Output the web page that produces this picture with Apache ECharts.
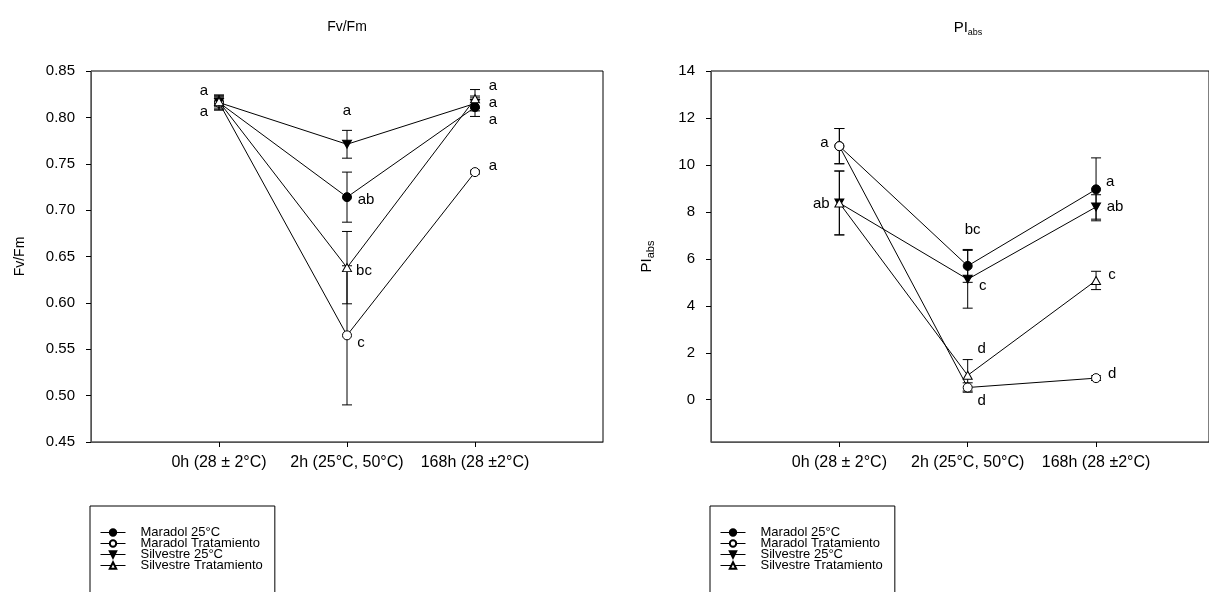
<!DOCTYPE html>
<html>
<head>
<meta charset="utf-8">
<script src="https://cdn.jsdelivr.net/npm/echarts@6/dist/echarts.min.js"></script>
<style>
html,body{margin:0;padding:0;background:#fff;}
#chart{width:1209px;height:592px;}
</style>
</head>
<body>
<div id="chart"></div>
<script>
// ---------- data ----------
const categories = ['0h (28 ± 2°C)', '2h (25°C, 50°C)', '168h (28 ±2°C)'];
const seriesNames = ['Maradol 25°C', 'Maradol Tratamiento', 'Silvestre 25°C', 'Silvestre Tratamiento'];

const fvfmMaradol25 = [0.816, 0.714, 0.811];
const fvfmMaradol25Err = [0.008, 0.027, 0.010];
const fvfmMaradolTrat = [0.816, 0.565, 0.741];
const fvfmMaradolTratErr = [0.006, 0.075, 0.002];
const fvfmSilv25 = [0.816, 0.771, 0.815];
const fvfmSilv25Err = [0.008, 0.015, 0.008];
const fvfmSilvTrat = [0.817, 0.638, 0.820];
const fvfmSilvTratErr = [0.005, 0.039, 0.010];

const piMaradol25 = [10.80, 5.70, 8.96];
const piMaradol25Err = [0.75, 0.70, 1.34];
const piMaradolTrat = [10.80, 0.52, 0.92];
const piMaradolTratErr = [0.75, 0.20, 0.10];
const piSilv25 = [8.38, 5.13, 8.21];
const piSilv25Err = [1.36, 1.23, 0.52];
const piSilvTrat = [8.38, 1.04, 5.08];
const piSilvTratErr = [1.36, 0.67, 0.39];

const fvfmLetters = [['a', 'ab', 'a'], ['', 'c', 'a'], ['a', 'a', 'a'], ['', 'bc', 'a']];
const piLetters = [['', 'bc', 'a'], ['a', 'd', 'd'], ['', 'c', 'ab'], ['ab', 'd', 'c']];

const fvfmTicks = [0.45, 0.50, 0.55, 0.60, 0.65, 0.70, 0.75, 0.80, 0.85];
const piTicks = [0, 2, 4, 6, 8, 10, 12, 14];

// ---------- layout / style (not data) ----------
const fvfmLabelOffsets = [
  [[-15, -12], [19, 3], [18, 13]],
  [[0, 0], [14, 8], [18, -6]],
  [[-15, 9], [0, -33], [18, -1]],
  [[0, 0], [17, 3], [18, -13]]
];
const piLabelOffsets = [
  [[0, 0], [5, -36], [14, -7]],
  [[-15, -3], [14, 13], [16, -4]],
  [[0, 0], [15, 7], [19, 0]],
  [[-18, 1], [14, -26], [16, -6]]
];
const downTri = 'path://M0,0 L10,0 L5,9 Z';
const symbolStyles = [
  { symbol: 'circle', size: 9, fill: '#000' },
  { symbol: 'circle', size: 9, fill: '#fff' },
  { symbol: downTri, size: [9, 8], fill: '#000' },
  { symbol: 'triangle', size: [9, 8], fill: '#fff' }
];
const FONT = '"Liberation Sans", Arial, sans-serif';

function buildSeries(gi, vals, errs, letters, offsets) {
  const out = [];
  vals.forEach((v, si) => {
    out.push({
      type: 'custom',
      name: 'err-' + gi + '-' + si,
      xAxisIndex: gi, yAxisIndex: gi,
      z: 2,
      silent: true,
      data: v.map((y, i) => [i, y, errs[si][i]]),
      encode: { x: 0, y: 1 },
      renderItem: function (params, api) {
        const x = api.value(0), y = api.value(1), e = api.value(2);
        const t = api.coord([x, y + e]);
        const b = api.coord([x, y - e]);
        const w = 5;
        const st = { stroke: '#000', lineWidth: 1 };
        return {
          type: 'group',
          children: [
            { type: 'line', shape: { x1: t[0], y1: t[1], x2: b[0], y2: b[1] }, style: st },
            { type: 'line', shape: { x1: t[0] - w, y1: t[1], x2: t[0] + w, y2: t[1] }, style: st },
            { type: 'line', shape: { x1: b[0] - w, y1: b[1], x2: b[0] + w, y2: b[1] }, style: st }
          ]
        };
      }
    });
  });
  vals.forEach((v, si) => {
    const s = symbolStyles[si];
    out.push({
      type: 'line',
      name: seriesNames[si],
      xAxisIndex: gi, yAxisIndex: gi,
      z: 3,
      symbol: s.symbol,
      symbolSize: s.size,
      showAllSymbol: true,
      color: '#000',
      lineStyle: { color: '#000', width: 1 },
      itemStyle: { color: s.fill, borderColor: '#000', borderWidth: 1 },
      emphasis: { disabled: true },
      animation: false,
      data: v.map((y, i) => ({
        value: [i, y],
        label: {
          show: letters[si][i] !== '',
          formatter: letters[si][i],
          position: 'inside',
          offset: offsets[si][i],
          color: '#000',
          fontSize: 15,
          fontFamily: FONT
        }
      }))
    });
  });
  return out;
}

const fvfmVals = [fvfmMaradol25, fvfmMaradolTrat, fvfmSilv25, fvfmSilvTrat];
const fvfmErrs = [fvfmMaradol25Err, fvfmMaradolTratErr, fvfmSilv25Err, fvfmSilvTratErr];
const piVals = [piMaradol25, piMaradolTrat, piSilv25, piSilvTrat];
const piErrs = [piMaradol25Err, piMaradolTratErr, piSilv25Err, piSilvTratErr];

function xAxisDef(gi, maxV) {
  return {
    type: 'value', gridIndex: gi, min: -1, max: maxV, interval: 1,
    splitLine: { show: false },
    axisLine: { show: true, onZero: false, lineStyle: { color: '#555', width: 1 } },
    axisTick: { show: true, length: 5, customValues: [0, 1, 2], lineStyle: { color: '#000' } },
    axisLabel: {
      customValues: [0, 1, 2], margin: 13, color: '#000', fontSize: 16, fontFamily: FONT,
      formatter: v => categories[Math.round(v)]
    }
  };
}

const legendBase = {
  orient: 'vertical',
  top: 506,
  height: 120,
  itemWidth: 25, itemHeight: 8, itemGap: -2,
  padding: [20, 12, 40, 10],
  borderColor: '#000', borderWidth: 1,
  selectedMode: false,
  data: seriesNames,
  lineStyle: { width: 1, color: '#000' },
  textStyle: { color: '#000', fontSize: 13, fontFamily: FONT, padding: [0, 0, 0, 10] }
};

const option = {
  animation: false,
  backgroundColor: '#fff',
  textStyle: { fontFamily: FONT },
  grid: [
    { left: 91, top: 71, width: 512, height: 371, show: true, borderColor: '#000', borderWidth: 1, containLabel: false },
    { left: 711, top: 71, width: 498, height: 371, show: true, borderColor: '#000', borderWidth: 1, containLabel: false }
  ],
  xAxis: [xAxisDef(0, 3), xAxisDef(1, 2.88)],
  yAxis: [
    {
      type: 'value', gridIndex: 0, min: 0.45, max: 0.85, interval: 0.05,
      splitLine: { show: false },
      axisLine: { show: true, onZero: false, lineStyle: { color: '#555' } },
      axisTick: { show: true, length: 5, customValues: fvfmTicks, lineStyle: { color: '#000' } },
      axisLabel: { customValues: fvfmTicks, margin: 16, color: '#000', fontSize: 15, fontFamily: FONT, formatter: v => v.toFixed(2) },
      name: 'Fv/Fm', nameLocation: 'middle', nameGap: 64, nameRotate: 90,
      nameTextStyle: { color: '#000', fontSize: 14, fontFamily: FONT }
    },
    {
      type: 'value', gridIndex: 1, min: -1.8, max: 14,
      splitLine: { show: false },
      axisLine: { show: true, onZero: false, lineStyle: { color: '#555' } },
      axisTick: { show: true, length: 5, customValues: piTicks, lineStyle: { color: '#000' } },
      axisLabel: { customValues: piTicks, margin: 16, color: '#000', fontSize: 15, fontFamily: FONT },
      name: '{a|PI}{b|abs}', nameLocation: 'middle', nameGap: 55, nameRotate: 90,
      nameTextStyle: {
        color: '#000', fontFamily: FONT,
        rich: {
          a: { fontSize: 15, color: '#000', fontFamily: FONT },
          b: { fontSize: 11, color: '#000', fontFamily: FONT, padding: [8, 0, 0, 0] }
        }
      }
    }
  ],
  legend: [
    Object.assign({}, legendBase, { left: 90 }),
    Object.assign({}, legendBase, { left: 710 })
  ],
  graphic: [
    { type: 'text', x: 347, y: 27, style: { text: 'Fv/Fm', fill: '#000', font: '14px ' + FONT, textAlign: 'center', textVerticalAlign: 'middle' } },
    {
      type: 'text', x: 968, y: 28,
      style: {
        text: '{a|PI}{b|abs}', fill: '#000', textAlign: 'center', textVerticalAlign: 'middle',
        rich: {
          a: { fontSize: 15, fontFamily: FONT, fill: '#000' },
          b: { fontSize: 9, fontFamily: FONT, fill: '#000', padding: [9, 0, 0, 0] }
        }
      }
    }
  ],
  series: buildSeries(0, fvfmVals, fvfmErrs, fvfmLetters, fvfmLabelOffsets)
    .concat(buildSeries(1, piVals, piErrs, piLetters, piLabelOffsets))
};

const chart = echarts.init(document.getElementById('chart'), null, { renderer: 'canvas' });
chart.setOption(option);
</script>
</body>
</html>
